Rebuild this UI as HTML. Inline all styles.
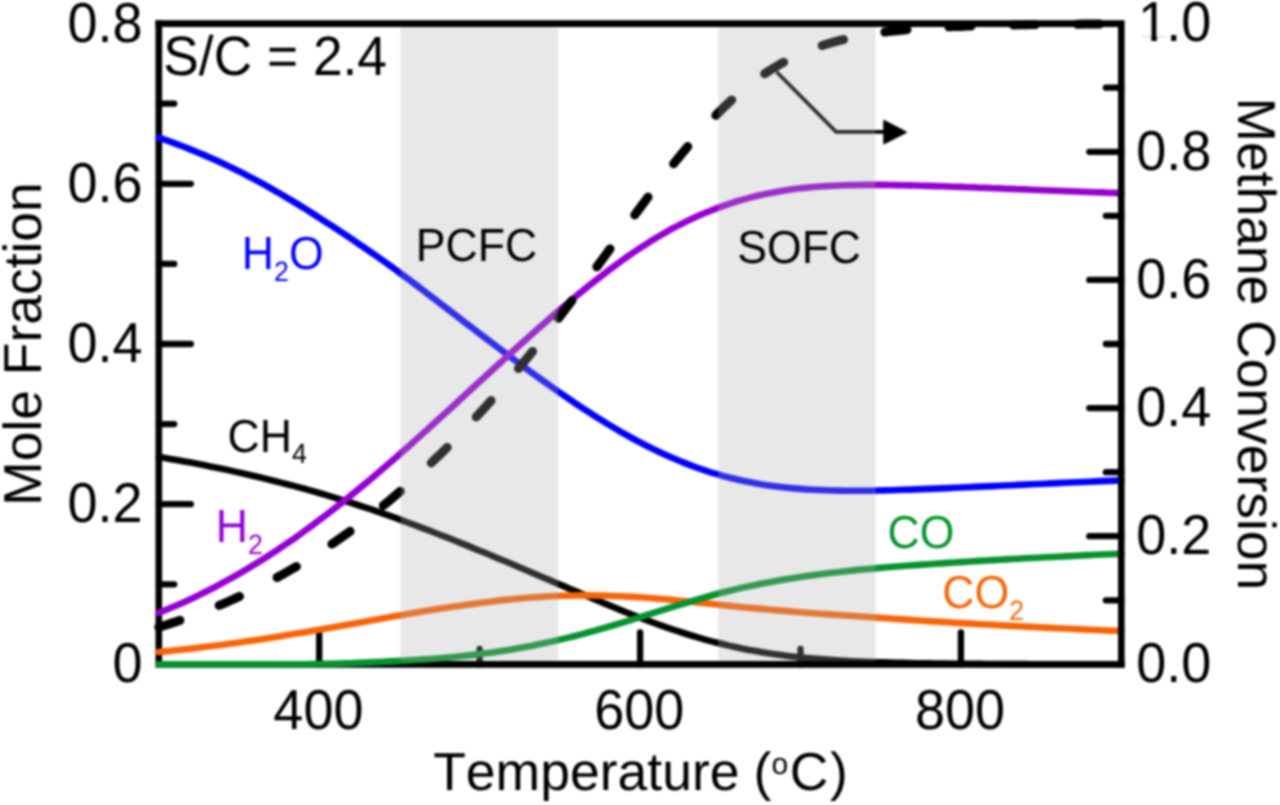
<!DOCTYPE html>
<html lang="en"><head><meta charset="utf-8"><title>Equilibrium composition, S/C = 2.4</title>
<style>html,body{margin:0;padding:0;background:#fff}body{width:1280px;height:805px;overflow:hidden}svg{display:block}text{font-family:"Liberation Sans",Arial,Helvetica,sans-serif;font-kerning:none;font-variant-ligatures:none;text-rendering:geometricPrecision}</style></head><body>
<svg width="1280" height="805" viewBox="0 0 1280 805">
<rect width="1280" height="805" fill="#fff"/>
<filter id="soft" x="-2%" y="-2%" width="104%" height="104%" color-interpolation-filters="sRGB"><feGaussianBlur stdDeviation="1.1"/></filter>
<g filter="url(#soft)">
<rect x="-20" y="-20" width="1320" height="845" fill="#fff"/>
<g stroke="#000" stroke-width="6.3" stroke-linecap="round" fill="none">
<line x1="158.8" y1="504.2" x2="190.8" y2="504.2"/>
<line x1="158.8" y1="344.0" x2="190.8" y2="344.0"/>
<line x1="158.8" y1="183.8" x2="190.8" y2="183.8"/>
<line x1="158.8" y1="584.3" x2="174.2" y2="584.3"/>
<line x1="158.8" y1="424.1" x2="174.2" y2="424.1"/>
<line x1="158.8" y1="263.9" x2="174.2" y2="263.9"/>
<line x1="158.8" y1="103.7" x2="174.2" y2="103.7"/>
<line x1="319.2" y1="664.4" x2="319.2" y2="632.4"/>
<line x1="640.1" y1="664.4" x2="640.1" y2="632.4"/>
<line x1="960.9" y1="664.4" x2="960.9" y2="632.4"/>
<line x1="479.6" y1="664.4" x2="479.6" y2="649.0"/>
<line x1="800.5" y1="664.4" x2="800.5" y2="649.0"/>
<line x1="1121.3" y1="536.2" x2="1089.3" y2="536.2"/>
<line x1="1121.3" y1="408.1" x2="1089.3" y2="408.1"/>
<line x1="1121.3" y1="279.9" x2="1089.3" y2="279.9"/>
<line x1="1121.3" y1="151.8" x2="1089.3" y2="151.8"/>
<line x1="1121.3" y1="600.3" x2="1105.9" y2="600.3"/>
<line x1="1121.3" y1="472.2" x2="1105.9" y2="472.2"/>
<line x1="1121.3" y1="344.0" x2="1105.9" y2="344.0"/>
<line x1="1121.3" y1="215.8" x2="1105.9" y2="215.8"/>
<line x1="1121.3" y1="87.7" x2="1105.9" y2="87.7"/>
</g>
<path d="M158.8,20.3 V664.4 H1124.6" stroke="#000" stroke-width="6.6" fill="none" stroke-linejoin="miter"/>
<g fill="none" stroke-linejoin="round" stroke-linecap="round">
<path d="M158.8,457.1 L165.2,458.1 L171.6,459.2 L178.1,460.3 L184.5,461.5 L190.9,462.6 L197.3,463.8 L203.7,465.1 L210.1,466.4 L216.6,467.7 L223.0,469.0 L229.4,470.4 L235.8,471.9 L242.2,473.3 L248.6,474.8 L255.1,476.3 L261.5,477.8 L267.9,479.4 L274.3,481.0 L280.7,482.6 L287.1,484.2 L293.6,485.9 L300.0,487.6 L306.4,489.3 L312.8,491.2 L319.2,493.0 L325.6,494.9 L332.1,496.9 L338.5,498.8 L344.9,500.8 L351.3,502.9 L357.7,505.0 L364.1,507.1 L370.6,509.2 L377.0,511.4 L383.4,513.7 L389.8,515.9 L396.2,518.2 L402.6,520.6 L409.1,523.0 L415.5,525.4 L421.9,527.8 L428.3,530.2 L434.7,532.7 L441.1,535.2 L447.6,537.7 L454.0,540.3 L460.4,542.9 L466.8,545.4 L473.2,548.1 L479.6,550.7 L486.1,553.3 L492.5,556.0 L498.9,558.7 L505.3,561.3 L511.7,564.0 L518.1,566.8 L524.6,569.5 L531.0,572.2 L537.4,575.0 L543.8,577.7 L550.2,580.4 L556.6,583.2 L563.1,585.9 L569.5,588.7 L575.9,591.4 L582.3,594.1 L588.7,596.8 L595.1,599.5 L601.6,602.2 L608.0,604.9 L614.4,607.5 L620.8,610.1 L627.2,612.7 L633.6,615.2 L640.1,617.7 L646.5,620.1 L652.9,622.5 L659.3,624.8 L665.7,627.1 L672.1,629.3 L678.6,631.4 L685.0,633.5 L691.4,635.5 L697.8,637.4 L704.2,639.3 L710.6,641.1 L717.1,642.7 L723.5,644.3 L729.9,645.9 L736.3,647.3 L742.7,648.7 L749.1,649.9 L755.6,651.1 L762.0,652.2 L768.4,653.3 L774.8,654.2 L781.2,655.1 L787.6,655.9 L794.1,656.7 L800.5,657.4 L806.9,658.0 L813.3,658.6 L819.7,659.1 L826.1,659.6 L832.6,660.1 L839.0,660.5 L845.4,660.8 L851.8,661.2 L858.2,661.5 L864.6,661.8 L871.1,662.0 L877.5,662.2 L883.9,662.4 L890.3,662.6 L896.7,662.8 L903.1,662.9 L909.6,663.1 L916.0,663.2 L922.4,663.3 L928.8,663.4 L935.2,663.5 L941.6,663.6 L948.1,663.6 L954.5,663.7 L960.9,663.8 L967.3,663.8 L973.7,663.9 L980.2,663.9 L986.6,664.0 L993.0,664.0 L999.4,664.0 L1005.8,664.1 L1012.2,664.1 L1018.7,664.1 L1025.1,664.1 L1031.5,664.2 L1037.9,664.2 L1044.3,664.2 L1050.7,664.2 L1057.2,664.2 L1063.6,664.2 L1070.0,664.3 L1076.4,664.3 L1082.8,664.3 L1089.2,664.3 L1095.7,664.3 L1102.1,664.3 L1108.5,664.3 L1114.9,664.3 L1121.3,664.3" stroke="#000000" stroke-width="6.6"/>
<path d="M158.8,652.0 L165.2,651.4 L171.6,650.7 L178.1,650.0 L184.5,649.3 L190.9,648.6 L197.3,647.9 L203.7,647.1 L210.1,646.3 L216.6,645.5 L223.0,644.7 L229.4,643.8 L235.8,642.9 L242.2,642.0 L248.6,641.1 L255.1,640.2 L261.5,639.2 L267.9,638.2 L274.3,637.2 L280.7,636.2 L287.1,635.1 L293.6,634.1 L300.0,633.0 L306.4,631.9 L312.8,630.8 L319.2,629.7 L325.6,628.6 L332.1,627.5 L338.5,626.3 L344.9,625.2 L351.3,624.0 L357.7,622.9 L364.1,621.7 L370.6,620.6 L377.0,619.4 L383.4,618.3 L389.8,617.1 L396.2,616.0 L402.6,614.9 L409.1,613.8 L415.5,612.7 L421.9,611.6 L428.3,610.6 L434.7,609.6 L441.1,608.6 L447.6,607.6 L454.0,606.6 L460.4,605.7 L466.8,604.8 L473.2,603.9 L479.6,603.0 L486.1,602.2 L492.5,601.4 L498.9,600.6 L505.3,599.9 L511.7,599.2 L518.1,598.6 L524.6,598.0 L531.0,597.5 L537.4,597.1 L543.8,596.6 L550.2,596.3 L556.6,596.0 L563.1,595.8 L569.5,595.6 L575.9,595.5 L582.3,595.4 L588.7,595.4 L595.1,595.5 L601.6,595.6 L608.0,595.7 L614.4,596.0 L620.8,596.2 L627.2,596.6 L633.6,596.9 L640.1,597.3 L646.5,597.8 L652.9,598.3 L659.3,598.8 L665.7,599.3 L672.1,599.9 L678.6,600.5 L685.0,601.2 L691.4,601.8 L697.8,602.5 L704.2,603.1 L710.6,603.8 L717.1,604.5 L723.5,605.2 L729.9,605.9 L736.3,606.5 L742.7,607.2 L749.1,607.8 L755.6,608.4 L762.0,608.9 L768.4,609.5 L774.8,610.1 L781.2,610.6 L787.6,611.1 L794.1,611.7 L800.5,612.2 L806.9,612.7 L813.3,613.2 L819.7,613.7 L826.1,614.1 L832.6,614.6 L839.0,615.0 L845.4,615.5 L851.8,615.9 L858.2,616.3 L864.6,616.8 L871.1,617.2 L877.5,617.6 L883.9,618.1 L890.3,618.5 L896.7,619.0 L903.1,619.4 L909.6,619.9 L916.0,620.3 L922.4,620.7 L928.8,621.1 L935.2,621.5 L941.6,621.9 L948.1,622.3 L954.5,622.7 L960.9,623.1 L967.3,623.4 L973.7,623.8 L980.2,624.2 L986.6,624.5 L993.0,624.9 L999.4,625.2 L1005.8,625.6 L1012.2,625.9 L1018.7,626.3 L1025.1,626.6 L1031.5,626.9 L1037.9,627.2 L1044.3,627.6 L1050.7,627.9 L1057.2,628.2 L1063.6,628.5 L1070.0,628.8 L1076.4,629.1 L1082.8,629.4 L1089.2,629.7 L1095.7,630.0 L1102.1,630.3 L1108.5,630.6 L1114.9,630.8 L1121.3,631.1" stroke="#F86408" stroke-width="6.6"/>
<path d="M158.8,664.4 L165.2,664.4 L171.6,664.4 L178.1,664.4 L184.5,664.4 L190.9,664.4 L197.3,664.4 L203.7,664.4 L210.1,664.4 L216.6,664.4 L223.0,664.4 L229.4,664.4 L235.8,664.4 L242.2,664.4 L248.6,664.4 L255.1,664.4 L261.5,664.4 L267.9,664.4 L274.3,664.4 L280.7,664.3 L287.1,664.3 L293.6,664.3 L300.0,664.3 L306.4,664.2 L312.8,664.1 L319.2,664.0 L325.6,663.9 L332.1,663.8 L338.5,663.6 L344.9,663.4 L351.3,663.2 L357.7,662.9 L364.1,662.6 L370.6,662.4 L377.0,662.1 L383.4,661.8 L389.8,661.4 L396.2,661.1 L402.6,660.8 L409.1,660.4 L415.5,660.0 L421.9,659.6 L428.3,659.2 L434.7,658.7 L441.1,658.2 L447.6,657.6 L454.0,657.0 L460.4,656.3 L466.8,655.6 L473.2,654.9 L479.6,654.1 L486.1,653.3 L492.5,652.4 L498.9,651.5 L505.3,650.5 L511.7,649.4 L518.1,648.3 L524.6,647.1 L531.0,645.9 L537.4,644.6 L543.8,643.3 L550.2,641.9 L556.6,640.4 L563.1,638.9 L569.5,637.4 L575.9,635.7 L582.3,634.1 L588.7,632.3 L595.1,630.6 L601.6,628.8 L608.0,626.9 L614.4,625.0 L620.8,623.1 L627.2,621.1 L633.6,619.2 L640.1,617.2 L646.5,615.2 L652.9,613.2 L659.3,611.2 L665.7,609.2 L672.1,607.2 L678.6,605.2 L685.0,603.3 L691.4,601.3 L697.8,599.5 L704.2,597.6 L710.6,595.8 L717.1,594.0 L723.5,592.3 L729.9,590.7 L736.3,589.1 L742.7,587.6 L749.1,586.2 L755.6,584.9 L762.0,583.6 L768.4,582.4 L774.8,581.2 L781.2,580.1 L787.6,579.0 L794.1,578.0 L800.5,577.0 L806.9,576.1 L813.3,575.2 L819.7,574.3 L826.1,573.5 L832.6,572.7 L839.0,572.0 L845.4,571.2 L851.8,570.6 L858.2,569.9 L864.6,569.3 L871.1,568.7 L877.5,568.1 L883.9,567.5 L890.3,567.0 L896.7,566.5 L903.1,566.0 L909.6,565.5 L916.0,565.1 L922.4,564.6 L928.8,564.2 L935.2,563.8 L941.6,563.4 L948.1,562.9 L954.5,562.5 L960.9,562.1 L967.3,561.7 L973.7,561.3 L980.2,560.9 L986.6,560.5 L993.0,560.1 L999.4,559.8 L1005.8,559.4 L1012.2,559.0 L1018.7,558.7 L1025.1,558.3 L1031.5,558.0 L1037.9,557.7 L1044.3,557.3 L1050.7,557.0 L1057.2,556.7 L1063.6,556.4 L1070.0,556.1 L1076.4,555.7 L1082.8,555.4 L1089.2,555.1 L1095.7,554.8 L1102.1,554.5 L1108.5,554.3 L1114.9,554.0 L1121.3,553.7" stroke="#07922F" stroke-width="6.6"/>
<path d="M158.8,137.7 L165.2,139.9 L171.6,142.2 L178.1,144.6 L184.5,147.0 L190.9,149.6 L197.3,152.2 L203.7,154.9 L210.1,157.7 L216.6,160.5 L223.0,163.5 L229.4,166.6 L235.8,169.7 L242.2,172.9 L248.6,176.3 L255.1,179.6 L261.5,183.1 L267.9,186.7 L274.3,190.3 L280.7,194.0 L287.1,197.8 L293.6,201.6 L300.0,205.6 L306.4,209.5 L312.8,213.6 L319.2,217.7 L325.6,221.9 L332.1,226.1 L338.5,230.3 L344.9,234.6 L351.3,238.8 L357.7,243.2 L364.1,247.5 L370.6,251.9 L377.0,256.4 L383.4,260.9 L389.8,265.5 L396.2,270.2 L402.6,275.0 L409.1,279.7 L415.5,284.5 L421.9,289.4 L428.3,294.3 L434.7,299.1 L441.1,304.1 L447.6,309.0 L454.0,313.9 L460.4,318.8 L466.8,323.8 L473.2,328.7 L479.6,333.6 L486.1,338.5 L492.5,343.4 L498.9,348.2 L505.3,353.0 L511.7,357.8 L518.1,362.6 L524.6,367.3 L531.0,372.1 L537.4,376.7 L543.8,381.3 L550.2,385.9 L556.6,390.4 L563.1,394.9 L569.5,399.3 L575.9,403.7 L582.3,407.9 L588.7,412.1 L595.1,416.2 L601.6,420.3 L608.0,424.2 L614.4,428.0 L620.8,431.8 L627.2,435.4 L633.6,439.0 L640.1,442.4 L646.5,445.7 L652.9,448.9 L659.3,452.0 L665.7,455.0 L672.1,457.8 L678.6,460.5 L685.0,463.1 L691.4,465.6 L697.8,468.0 L704.2,470.2 L710.6,472.3 L717.1,474.2 L723.5,476.1 L729.9,477.8 L736.3,479.3 L742.7,480.8 L749.1,482.1 L755.6,483.3 L762.0,484.4 L768.4,485.4 L774.8,486.3 L781.2,487.1 L787.6,487.8 L794.1,488.4 L800.5,488.9 L806.9,489.4 L813.3,489.7 L819.7,490.0 L826.1,490.3 L832.6,490.5 L839.0,490.6 L845.4,490.7 L851.8,490.8 L858.2,490.8 L864.6,490.7 L871.1,490.7 L877.5,490.5 L883.9,490.4 L890.3,490.2 L896.7,490.0 L903.1,489.8 L909.6,489.6 L916.0,489.4 L922.4,489.1 L928.8,488.9 L935.2,488.6 L941.6,488.4 L948.1,488.1 L954.5,487.8 L960.9,487.5 L967.3,487.2 L973.7,486.9 L980.2,486.6 L986.6,486.4 L993.0,486.1 L999.4,485.8 L1005.8,485.5 L1012.2,485.2 L1018.7,484.9 L1025.1,484.6 L1031.5,484.3 L1037.9,484.0 L1044.3,483.7 L1050.7,483.4 L1057.2,483.1 L1063.6,482.8 L1070.0,482.5 L1076.4,482.2 L1082.8,482.0 L1089.2,481.7 L1095.7,481.4 L1102.1,481.1 L1108.5,480.9 L1114.9,480.6 L1121.3,480.3" stroke="#0000FF" stroke-width="6.6"/>
<path d="M158.8,612.8 L165.2,610.2 L171.6,607.5 L178.1,604.8 L184.5,601.9 L190.9,598.9 L197.3,595.9 L203.7,592.7 L210.1,589.5 L216.6,586.2 L223.0,582.7 L229.4,579.2 L235.8,575.6 L242.2,571.9 L248.6,568.1 L255.1,564.2 L261.5,560.2 L267.9,556.1 L274.3,551.9 L280.7,547.7 L287.1,543.3 L293.6,538.9 L300.0,534.4 L306.4,529.7 L312.8,525.0 L319.2,520.2 L325.6,515.4 L332.1,510.4 L338.5,505.4 L344.9,500.3 L351.3,495.1 L357.7,489.9 L364.1,484.6 L370.6,479.3 L377.0,473.8 L383.4,468.3 L389.8,462.8 L396.2,457.2 L402.6,451.6 L409.1,445.9 L415.5,440.1 L421.9,434.4 L428.3,428.6 L434.7,422.8 L441.1,416.9 L447.6,411.1 L454.0,405.2 L460.4,399.3 L466.8,393.4 L473.2,387.5 L479.6,381.6 L486.1,375.7 L492.5,369.8 L498.9,364.0 L505.3,358.1 L511.7,352.3 L518.1,346.5 L524.6,340.7 L531.0,335.0 L537.4,329.3 L543.8,323.7 L550.2,318.1 L556.6,312.5 L563.1,307.1 L569.5,301.7 L575.9,296.3 L582.3,291.1 L588.7,285.9 L595.1,280.8 L601.6,275.8 L608.0,270.9 L614.4,266.1 L620.8,261.4 L627.2,256.8 L633.6,252.4 L640.1,248.1 L646.5,243.9 L652.9,239.8 L659.3,236.0 L665.7,232.3 L672.1,228.7 L678.6,225.3 L685.0,222.1 L691.4,219.0 L697.8,216.1 L704.2,213.3 L710.6,210.7 L717.1,208.2 L723.5,205.8 L729.9,203.6 L736.3,201.5 L742.7,199.6 L749.1,197.9 L755.6,196.3 L762.0,194.8 L768.4,193.4 L774.8,192.2 L781.2,191.0 L787.6,190.0 L794.1,189.1 L800.5,188.3 L806.9,187.6 L813.3,187.0 L819.7,186.5 L826.1,186.1 L832.6,185.8 L839.0,185.5 L845.4,185.3 L851.8,185.1 L858.2,185.0 L864.6,184.9 L871.1,184.9 L877.5,184.9 L883.9,184.9 L890.3,185.0 L896.7,185.1 L903.1,185.2 L909.6,185.4 L916.0,185.5 L922.4,185.7 L928.8,185.9 L935.2,186.1 L941.6,186.3 L948.1,186.5 L954.5,186.7 L960.9,186.9 L967.3,187.2 L973.7,187.4 L980.2,187.7 L986.6,187.9 L993.0,188.2 L999.4,188.4 L1005.8,188.7 L1012.2,188.9 L1018.7,189.2 L1025.1,189.4 L1031.5,189.7 L1037.9,190.0 L1044.3,190.2 L1050.7,190.5 L1057.2,190.7 L1063.6,191.0 L1070.0,191.2 L1076.4,191.5 L1082.8,191.7 L1089.2,192.0 L1095.7,192.2 L1102.1,192.4 L1108.5,192.7 L1114.9,192.9 L1121.3,193.2" stroke="#9400D3" stroke-width="6.6"/>
<path d="M158.8,627.2 L165.2,625.2 L171.6,623.1 L178.1,621.0 L184.5,618.8 L190.9,616.5 L197.3,614.1 L203.7,611.7 L210.1,609.2 L216.6,606.5 L223.0,603.8 L229.4,601.0 L235.8,598.1 L242.2,595.1 L248.6,592.1 L255.1,588.9 L261.5,585.7 L267.9,582.4 L274.3,579.0 L280.7,575.5 L287.1,571.9 L293.6,568.2 L300.0,564.4 L306.4,560.5 L312.8,556.5 L319.2,552.4 L325.6,548.2 L332.1,543.9 L338.5,539.5 L344.9,535.0 L351.3,530.4 L357.7,525.6 L364.1,520.8 L370.6,515.8 L377.0,510.7 L383.4,505.5 L389.8,500.2 L396.2,494.8 L402.6,489.2 L409.1,483.5 L415.5,477.7 L421.9,471.8 L428.3,465.8 L434.7,459.6 L441.1,453.4 L447.6,447.0 L454.0,440.5 L460.4,433.9 L466.8,427.1 L473.2,420.3 L479.6,413.3 L486.1,406.2 L492.5,399.0 L498.9,391.7 L505.3,384.2 L511.7,376.7 L518.1,369.0 L524.6,361.2 L531.0,353.3 L537.4,345.3 L543.8,337.2 L550.2,329.0 L556.6,320.7 L563.1,312.3 L569.5,303.8 L575.9,295.3 L582.3,286.6 L588.7,277.9 L595.1,269.2 L601.6,260.4 L608.0,251.6 L614.4,242.8 L620.8,234.0 L627.2,225.2 L633.6,216.5 L640.1,207.8 L646.5,199.1 L652.9,190.6 L659.3,182.1 L665.7,173.8 L672.1,165.6 L678.6,157.6 L685.0,149.8 L691.4,142.2 L697.8,134.8 L704.2,127.6 L710.6,120.7 L717.1,114.0 L723.5,107.6 L729.9,101.6 L736.3,95.8 L742.7,90.3 L749.1,85.1 L755.6,80.2 L762.0,75.6 L768.4,71.3 L774.8,67.3 L781.2,63.5 L787.6,60.1 L794.1,56.9 L800.5,53.9 L806.9,51.2 L813.3,48.7 L819.7,46.4 L826.1,44.3 L832.6,42.4 L839.0,40.7 L845.4,39.1 L851.8,37.7 L858.2,36.4 L864.6,35.2 L871.1,34.1 L877.5,33.1 L883.9,32.2 L890.3,31.4 L896.7,30.7 L903.1,30.1 L909.6,29.5 L916.0,28.9 L922.4,28.4 L928.8,28.0 L935.2,27.6 L941.6,27.3 L948.1,26.9 L954.5,26.6 L960.9,26.4 L967.3,26.1 L973.7,25.9 L980.2,25.7 L986.6,25.5 L993.0,25.4 L999.4,25.2 L1005.8,25.1 L1012.2,24.9 L1018.7,24.8 L1025.1,24.7 L1031.5,24.6 L1037.9,24.5 L1044.3,24.5 L1050.7,24.4 L1057.2,24.3 L1063.6,24.3 L1070.0,24.2 L1076.4,24.2 L1082.8,24.1 L1089.2,24.1 L1095.7,24.0 L1102.1,24.0 L1108.5,24.0 L1114.9,24.0 L1121.3,23.9" stroke="#000" stroke-width="9.0" stroke-linecap="round" stroke-dasharray="22.2 42.05" stroke-dashoffset="0"/>
</g>
<g stroke="#000" fill="none" stroke-width="3.7" stroke-linejoin="miter"><path d="M776.7,72 L836.1,131.8 H886"/></g>
<path d="M884,120.8 L906,132.2 L884,143.6 Z" fill="#000" stroke="#000" stroke-width="1.6" stroke-linejoin="round"/>
<path d="M155.5,23.6 H1121.3 V667.7" stroke="#000" stroke-width="6.6" fill="none" stroke-linejoin="miter"/>
<rect x="400.4" y="26.9" width="157.90" height="634.2" fill="rgb(172,172,172)" fill-opacity="0.28"/>
<rect x="718.3" y="26.9" width="157.30" height="634.2" fill="rgb(172,172,172)" fill-opacity="0.28"/>
<g font-size="54" fill="#000">
<text transform="translate(142.6,682.3) scale(1,1.04)" text-anchor="end">0</text>
<text transform="translate(142.6,522.1) scale(1,1.04)" text-anchor="end">0.2</text>
<text transform="translate(142.6,361.9) scale(1,1.04)" text-anchor="end">0.4</text>
<text transform="translate(142.6,201.7) scale(1,1.04)" text-anchor="end">0.6</text>
<text transform="translate(142.6,41.5) scale(1,1.04)" text-anchor="end">0.8</text>
<text transform="translate(1136.3,682.1) scale(1,1.04)">0.0</text>
<text transform="translate(1136.3,553.9) scale(1,1.04)">0.2</text>
<text transform="translate(1136.3,425.8) scale(1,1.04)">0.4</text>
<text transform="translate(1136.3,297.6) scale(1,1.04)">0.6</text>
<text transform="translate(1136.3,169.5) scale(1,1.04)">0.8</text>
<clipPath id="one"><path d="M1130,-5 H1230 V47.3 H1167.5 V36.8 H1156.85 V44.3 H1151.28 V36.8 H1130 Z"/></clipPath>
<g clip-path="url(#one)"><text transform="translate(0.0,41.3) scale(1,1.04)"><tspan x="1138.1">1</tspan><tspan x="1166.3">.0</tspan></text></g>
<text transform="translate(318.4,728.7) scale(1,1.04)" text-anchor="middle">400</text>
<text transform="translate(639.3,728.7) scale(1,1.04)" text-anchor="middle">600</text>
<text transform="translate(960.1,728.7) scale(1,1.04)" text-anchor="middle">800</text>
<text transform="translate(163.3,75.2) scale(1,1.04)" font-size="53.3">S/C = 2.4</text>
</g>
<g font-size="53.4" fill="#000">
<text x="433.2" y="790" font-size="53.5">Temperature <tspan x="753.4">(</tspan><tspan font-size="30" x="771.4" dy="-16.4">o</tspan><tspan x="789.8" dy="16.4">C</tspan><tspan x="830.0">)</tspan></text>
<text transform="translate(41.0,344) rotate(-90)" text-anchor="middle">Mole Fraction</text>
<text transform="translate(1238.1,343.8) rotate(90)" text-anchor="middle">Methane Conversion</text>
</g>
<g font-size="44.6">
<text transform="translate(241.8,269.1) scale(1,1.04)" fill="#0000FF">H<tspan font-size="26.8" dy="11.83">2</tspan><tspan dy="-11.83">O</tspan></text>
<text transform="translate(415.7,261.4) scale(1,1.04)" fill="#000">PCFC</text>
<text transform="translate(737.2,262.7) scale(1,1.04)" fill="#000">SOFC</text>
<text transform="translate(227.5,452.1) scale(1,1.04)" fill="#000">CH<tspan font-size="26.8" dy="10.67">4</tspan></text>
<text transform="translate(215.7,542.2) scale(1,1.04)" fill="#9400D3">H<tspan font-size="26.8" dy="11.35">2</tspan></text>
<text transform="translate(887.6,548.0) scale(1,1.04)" fill="#07922F">CO</text>
<text transform="translate(942.3,608.3) scale(1,1.04)" fill="#F86408">CO<tspan font-size="26.8" dy="11.35">2</tspan></text>
</g>
</g>
</svg></body></html>
